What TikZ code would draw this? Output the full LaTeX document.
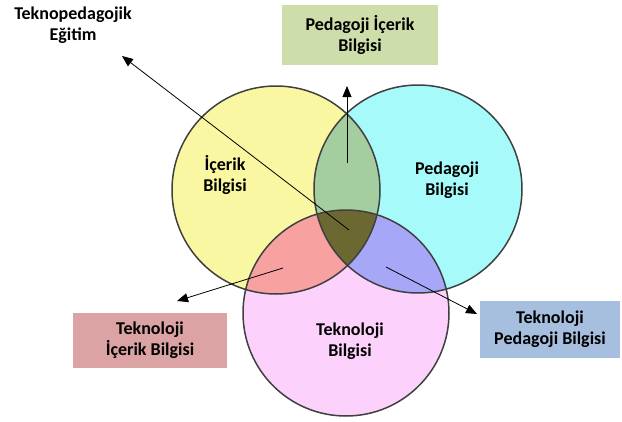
\documentclass[tikz,border=0pt]{standalone}
\usepackage{fontspec}
\setmainfont{Carlito}
\usetikzlibrary{arrows.meta}
\definecolor{cyel}{RGB}{250,247,162}
\definecolor{ccyan}{RGB}{166,250,250}
\definecolor{cpink}{RGB}{252,210,252}
\definecolor{cgreen}{RGB}{164,206,160}
\definecolor{csalmon}{RGB}{247,161,161}
\definecolor{cpurple}{RGB}{167,167,248}
\definecolor{colive}{RGB}{108,104,50}
\definecolor{cedge}{RGB}{64,64,64}
\definecolor{boxgreen}{RGB}{206,222,170}
\definecolor{boxpink}{RGB}{219,163,163}
\definecolor{boxblue}{RGB}{167,191,222}
\begin{document}
\begin{tikzpicture}[x=1pt,y=-1pt,
  lbl/.style={font=\bfseries\fontsize{18}{21}\selectfont, align=center, text=black},
  infobox/.style={lbl, inner sep=0pt},
  pointer/.style={draw=black, line width=0.8pt, -{Triangle[length=11pt,width=9pt]}},
  ring/.style={draw=cedge, line width=1.5pt}]
\useasboundingbox (0,0) rectangle (622,421);
\fill[white] (0,0) rectangle (622,421);
\coordinate (C) at (276,190);
\coordinate (P) at (418,189);
\coordinate (T) at (346,313);
% base fills
\fill[cyel] (C) circle (104pt);
\fill[ccyan] (P) circle (104pt);
\fill[cpink] (T) circle (103pt);
% pairwise overlaps
\begin{scope}\clip (C) circle (104pt); \fill[cgreen] (P) circle (104pt);\end{scope}
\begin{scope}\clip (C) circle (104pt); \fill[csalmon] (T) circle (103pt);\end{scope}
\begin{scope}\clip (P) circle (104pt); \fill[cpurple] (T) circle (103pt);\end{scope}
\begin{scope}\clip (C) circle (104pt); \clip (P) circle (104pt); \fill[colive] (T) circle (103pt);\end{scope}
% outlines
\draw[ring] (C) circle (104pt);
\draw[ring] (P) circle (104pt);
\draw[ring] (T) circle (103pt);
% circle labels
\node[lbl] (ck) at (225,175) {İçerik\\Bilgisi};
\node[lbl] (pk) at (447,180) {Pedagoji\\Bilgisi};
\node[lbl] (tk) at (350,341) {Teknoloji\\Bilgisi};
% boxes
\node[infobox, fill=boxgreen, minimum width=156pt, minimum height=60pt] (pck) at (360,35) {Pedagoji İçerik\\Bilgisi};
\node[infobox, fill=boxpink, minimum width=154pt, minimum height=55pt] (tck) at (150,340) {Teknoloji\\İçerik Bilgisi};
\node[infobox, fill=boxblue, minimum width=140pt, minimum height=57pt] (tpk) at (550,329) {Teknoloji\\Pedagoji Bilgisi};
\node[lbl] (tpack) at (73,25) {Teknopedagojik\\Eğitim};
% arrow ends
\coordinate (s1) at (349,230);
\coordinate (e1) at (122,56);
\coordinate (s2) at (347,163);
\coordinate (e2) at (347,86);
\coordinate (s3) at (283,268);
\coordinate (e3) at (177,301);
\coordinate (s4) at (386,267);
\coordinate (e4) at (477,314);
\draw[pointer] (s1) -- (e1);
\draw[pointer] (s2) -- (e2);
\draw[pointer] (s3) -- (e3);
\draw[pointer] (s4) -- (e4);
\end{tikzpicture}
\end{document}
